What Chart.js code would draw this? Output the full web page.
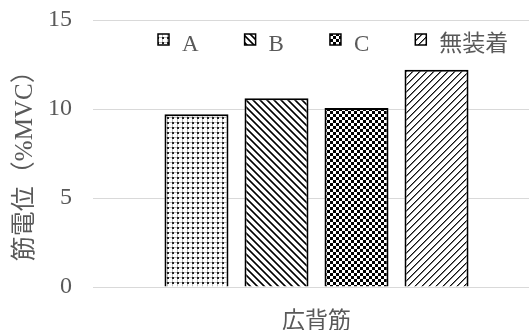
<!DOCTYPE html>
<html>
<head>
<meta charset="utf-8">
<script src="https://cdn.jsdelivr.net/npm/chart.js@4"></script>
<style>
  html, body { margin: 0; padding: 0; overflow: hidden; background: #fff; }
  #wrap { width: 540px; height: 330px; position: relative; }
</style>
</head>
<body>
<div id="wrap"><canvas id="c"></canvas></div>
<script>
// Data
const categories = ['広背筋'];
const seriesNames = ['A', 'B', 'C', '無装着'];
const valuesA = [9.7];
const valuesB = [10.6];
const valuesC = [10.05];
const valuesNone = [12.2];
const yTicks = [0, 5, 10, 15];

const TEXT = '#595959';
const FAMILY = "'Liberation Serif', 'Noto Sans CJK JP', serif";

const canvas = document.getElementById('c');
const ctx = canvas.getContext('2d');

// Pattern tiles for the bar fills
function makeTile(w, h, draw) {
  const t = document.createElement('canvas');
  t.width = w; t.height = h;
  const g = t.getContext('2d');
  g.fillStyle = '#fff';
  g.fillRect(0, 0, w, h);
  draw(g, w, h);
  return ctx.createPattern(t, 'repeat');
}

// dotted grid
const patDots = makeTile(5, 5, (g) => {
  g.fillStyle = '#bdbdbd';
  g.fillRect(0, 2, 5, 1);
  g.fillRect(2, 0, 1, 5);
  g.fillStyle = '#222';
  g.fillRect(2, 2, 2, 2);
});

// wide downward diagonal
const patDown = makeTile(7, 7, (g, w, h) => {
  for (let y = 0; y < h; y++)
    for (let x = 0; x < w; x++) {
      const k = ((y - x) % 7 + 7) % 7;
      if (k === 1) { g.fillStyle = '#000'; g.fillRect(x, y, 1, 1); }
      else if (k === 0 || k === 2) { g.fillStyle = '#555'; g.fillRect(x, y, 1, 1); }
    }
});

// checkerboard
const patCheck = makeTile(6, 6, (g) => {
  g.fillStyle = '#000';
  g.fillRect(3, 0, 3, 3);
  g.fillRect(0, 3, 3, 3);
});

// light upward diagonal
const patUp = makeTile(7, 7, (g, w, h) => {
  for (let y = 0; y < h; y++)
    for (let x = 0; x < w; x++) {
      const k = (x + y) % 7;
      if (k === 0) { g.fillStyle = '#111'; g.fillRect(x, y, 1, 1); }
      else if (k === 1) { g.fillStyle = '#777'; g.fillRect(x, y, 1, 1); }
    }
});

const fills = [patDots, patDown, patCheck, patUp];
const seriesValues = [valuesA, valuesB, valuesC, valuesNone];

// Legend drawn inside the plot area, below the top gridline
const innerLegend = {
  id: 'innerLegend',
  afterDraw(chart) {
    const c = chart.ctx;
    c.save();
    c.font = '23px ' + FAMILY;
    c.textBaseline = 'middle';
    c.textAlign = 'left';
    let x = chart.chartArea.left + 65;
    const yMid = 45;
    chart.data.datasets.forEach((ds) => {
      c.fillStyle = ds.backgroundColor;
      c.fillRect(x, 34, 11, 11);
      c.lineWidth = 1.5;
      c.strokeStyle = '#000';
      c.strokeRect(x, 34, 11, 11);
      c.fillStyle = TEXT;
      const tx = x + 24;
      c.fillText(ds.label, tx, yMid);
      x = tx + c.measureText(ds.label).width + 46;
    });
    c.restore();
  }
};

new Chart(ctx, {
  type: 'bar',
  data: {
    labels: categories,
    datasets: seriesNames.map((name, i) => ({
      label: name,
      data: seriesValues[i],
      backgroundColor: fills[i],
      borderColor: '#000',
      borderWidth: 2
    }))
  },
  options: {
    responsive: true,
    maintainAspectRatio: false,
    animation: false,
    layout: { padding: { top: 20, right: 0, left: 0, bottom: 0 } },
    datasets: { bar: { categoryPercentage: 0.716, barPercentage: 0.8 } },
    plugins: { legend: { display: false }, tooltip: { enabled: false } },
    scales: {
      x: {
        grid: { display: false, drawTicks: false },
        border: { display: false },
        ticks: { color: TEXT, font: { family: FAMILY, size: 23 }, padding: 21 },
        afterFit(scale) { scale.height = 43; }
      },
      y: {
        min: 0,
        max: 15,
        afterBuildTicks(scale) { scale.ticks = yTicks.map(v => ({ value: v })); },
        ticks: { color: TEXT, font: { family: FAMILY, size: 24 }, padding: 0 },
        grid: { color: '#d9d9d9', lineWidth: 1, drawTicks: true, tickLength: 21, tickColor: 'rgba(0,0,0,0)' },
        border: { display: false },
        title: {
          display: true,
          text: '筋電位（%MVC）  ',
          color: TEXT,
          font: { family: FAMILY, size: 25 },
          padding: { top: 10, bottom: 0 }
        },
        afterFit(scale) { scale.width = 93; }
      }
    }
  },
  plugins: [innerLegend]
});
</script>
</body>
</html>
